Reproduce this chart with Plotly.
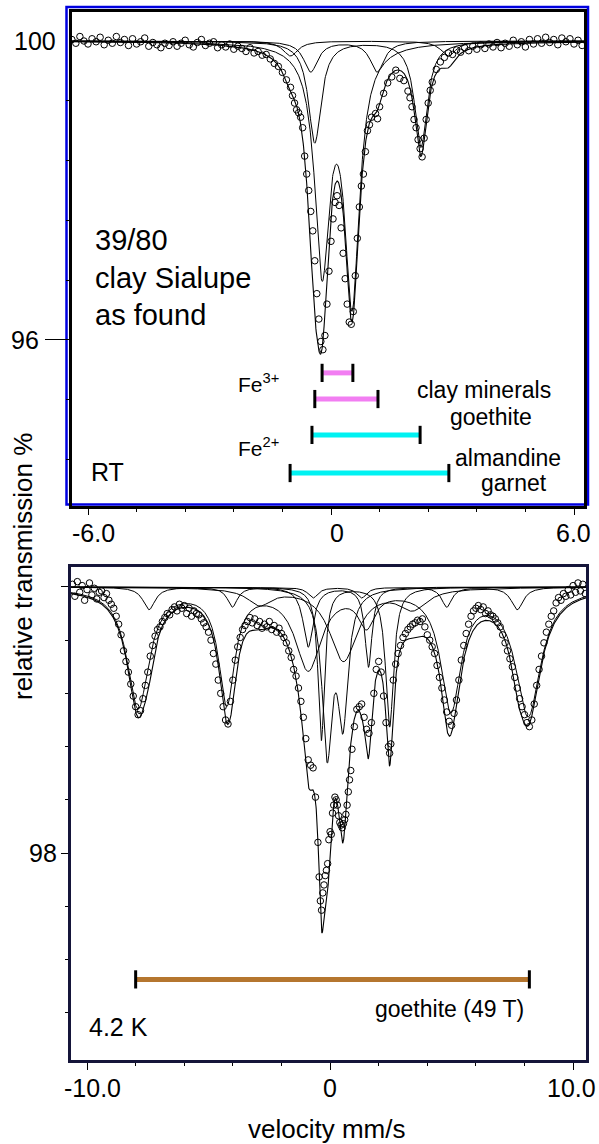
import numpy as np
import plotly.graph_objects as go

W, H = 599, 1144
FONT = "Arial, 'Liberation Sans', sans-serif"

# ---------------- RT spectrum: measured points ----------------
rt_velocity = [
    -6.4, -6.3, -6.2, -6.1, -6.0, -5.9, -5.8, -5.7, -5.6, -5.5, -5.4, -5.3, -5.2, -5.1, -5.0,
    -4.9, -4.8, -4.7, -4.6, -4.5, -4.4, -4.3, -4.2, -4.1, -4.0, -3.9, -3.8, -3.7, -3.6, -3.5,
    -3.4, -3.3, -3.2, -3.1, -3.0, -2.9, -2.8, -2.7, -2.6, -2.5, -2.4, -2.3, -2.2, -2.1, -2.0,
    -1.9, -1.8, -1.7, -1.6, -1.5, -1.4, -1.3, -1.2, -1.1, -1.0, -0.95, -0.9, -0.85, -0.8, -0.75,
    -0.7, -0.65, -0.6, -0.55, -0.5, -0.45, -0.4, -0.35, -0.3, -0.25, -0.2, -0.15, -0.1, -0.05, 0.0,
    0.05, 0.1, 0.15, 0.2, 0.25, 0.3, 0.35, 0.4, 0.45, 0.5, 0.55, 0.6, 0.65, 0.7, 0.75,
    0.8, 0.85, 0.9, 0.95, 1.0, 1.1, 1.15, 1.2, 1.3, 1.4, 1.5, 1.6, 1.7, 1.8, 1.9,
    1.95, 2.0, 2.05, 2.1, 2.15, 2.2, 2.25, 2.3, 2.35, 2.4, 2.45, 2.5, 2.6, 2.7, 2.8,
    2.9, 3.0, 3.1, 3.2, 3.3, 3.4, 3.5, 3.6, 3.7, 3.8, 3.9, 4.0, 4.1, 4.2, 4.3,
    4.4, 4.5, 4.6, 4.7, 4.8, 4.9, 5.0, 5.1, 5.2, 5.3, 5.4, 5.5, 5.6, 5.7, 5.8,
    5.9, 6.0, 6.1, 6.2,
]
rt_transmission = [
    100.02, 99.97, 100.06, 100.00, 99.96, 100.03, 99.99, 100.05, 99.95, 100.01, 99.97, 100.06, 99.98, 100.02, 99.94,
    100.03, 99.96, 99.99, 100.04, 99.93, 99.98, 99.95, 99.91, 99.97, 99.94, 99.99, 99.93, 99.97, 100.01, 99.95,
    99.92, 99.98, 100.02, 99.94, 99.97, 99.99, 99.91, 99.95, 99.92, 99.96, 99.89, 99.93, 99.90, 99.86, 99.91,
    99.84, 99.86, 99.81, 99.82, 99.76, 99.70, 99.66, 99.58, 99.48, 99.38, 99.27, 99.17, 99.08, 99.04, 98.98,
    98.84, 98.46, 98.22, 98.00, 97.72, 97.46, 97.06, 96.62, 96.28, 95.98, 95.87, 96.06, 96.48, 96.92, 97.32,
    97.62, 97.84, 97.93, 97.80, 97.50, 97.16, 96.82, 96.48, 96.24, 96.21, 96.38, 96.86, 97.36, 97.78, 98.06,
    98.22, 98.52, 98.80, 98.88, 98.98, 99.03, 98.96, 99.12, 99.30, 99.44, 99.52, 99.61, 99.50, 99.47, 99.33,
    99.24, 99.12, 98.95, 98.84, 98.68, 98.56, 98.45, 98.70, 98.95, 99.17, 99.34, 99.45, 99.62, 99.72, 99.78,
    99.84, 99.82, 99.88, 99.85, 99.91, 99.87, 99.93, 99.89, 99.95, 99.90, 99.96, 99.92, 99.98, 99.91, 99.97,
    99.93, 100.01, 99.95, 99.99, 99.92, 100.02, 99.96, 100.03, 99.97, 100.05, 99.98, 100.02, 99.95, 100.04, 99.99,
    100.03, 99.96, 100.01, 99.94,
]

# RT fitted subspectra (Lorentzian lines: centre mm/s, depth %, FWHM mm/s)
rt_fe3_clay_centre = [-0.22, 0.52]
rt_fe3_clay_depth = [2.94, 3.38]
rt_fe3_clay_width = [0.44, 0.44]
rt_fe3_goe_centre = [-0.50, 1.14]
rt_fe3_goe_depth = [0.41, 0.41]
rt_fe3_goe_width = [0.42, 0.42]
rt_fe2_clay_centre = [-0.40, 2.22]
rt_fe2_clay_depth = [1.36, 1.42]
rt_fe2_clay_width = [0.38, 0.38]
rt_fe2_alm_centre = [-1.00, 2.90]
rt_fe2_alm_depth = [0.20, 0.20]
rt_fe2_alm_width = [0.45, 0.45]

# RT stick bars (line positions of the doublets)
rt_bar_start = [-0.22, -0.40, -0.47, -1.01]
rt_bar_end = [0.54, 1.16, 2.20, 2.91]
rt_bar_level = [95.56, 95.21, 94.73, 94.22]
rt_bar_color = ["#f27ef2", "#f27ef2", "#00f2f2", "#00f2f2"]

# ---------------- 4.2 K spectrum: measured points ----------------
lt_velocity = [
    -10.6, -10.5, -10.4, -10.3, -10.2, -10.1, -10.0, -9.9, -9.8, -9.7, -9.6, -9.5, -9.4, -9.3, -9.2,
    -9.1, -9.0, -8.9, -8.8, -8.7, -8.6, -8.5, -8.4, -8.3, -8.2, -8.1, -8.0, -7.9, -7.8, -7.7,
    -7.6, -7.5, -7.4, -7.3, -7.2, -7.1, -7.0, -6.9, -6.8, -6.7, -6.6, -6.5, -6.4, -6.3, -6.2,
    -6.1, -6.0, -5.9, -5.8, -5.7, -5.6, -5.5, -5.4, -5.3, -5.2, -5.1, -5.0, -4.9, -4.8, -4.7,
    -4.6, -4.5, -4.4, -4.3, -4.2, -4.1, -4.0, -3.9, -3.8, -3.7, -3.6, -3.5, -3.4, -3.3, -3.2,
    -3.1, -3.0, -2.9, -2.8, -2.7, -2.6, -2.5, -2.4, -2.3, -2.2, -2.1, -2.0, -1.9, -1.8, -1.7,
    -1.6, -1.5, -1.4, -1.3, -1.2, -1.1, -1.0, -0.9, -0.8, -0.7, -0.6, -0.5, -0.45, -0.4, -0.35,
    -0.3, -0.25, -0.2, -0.15, -0.1, -0.05, 0.0, 0.05, 0.1, 0.15, 0.2, 0.25, 0.3, 0.35, 0.4,
    0.45, 0.5, 0.55, 0.6, 0.65, 0.7, 0.75, 0.8, 0.85, 0.9, 1.0, 1.1, 1.2, 1.3, 1.4,
    1.5, 1.6, 1.7, 1.8, 1.9, 2.0, 2.1, 2.2, 2.3, 2.4, 2.45, 2.5, 2.6, 2.7, 2.8,
    2.9, 3.0, 3.1, 3.2, 3.3, 3.4, 3.5, 3.6, 3.7, 3.8, 3.9, 4.0, 4.1, 4.2, 4.3,
    4.4, 4.5, 4.6, 4.7, 4.8, 4.9, 5.0, 5.1, 5.2, 5.3, 5.4, 5.5, 5.6, 5.7, 5.8,
    5.9, 6.0, 6.1, 6.2, 6.3, 6.4, 6.5, 6.6, 6.7, 6.8, 6.9, 7.0, 7.1, 7.2, 7.3,
    7.4, 7.5, 7.6, 7.7, 7.8, 7.9, 8.0, 8.1, 8.2, 8.3, 8.4, 8.5, 8.6, 8.7, 8.8,
    8.9, 9.0, 9.1, 9.2, 9.3, 9.4, 9.5, 9.6, 9.7, 9.8, 9.9, 10.0, 10.1, 10.2, 10.3,
    10.4, 10.5,
]
lt_transmission = [
    100.02, 99.93, 100.04, 99.96, 100.01, 99.90, 99.98, 100.03, 99.94, 99.99, 99.91, 99.96, 99.97, 99.92, 99.95,
    99.90, 99.87, 99.84, 99.78, 99.72, 99.64, 99.52, 99.44, 99.36, 99.27, 99.18, 99.10, 99.04, 99.07, 99.16,
    99.26, 99.36, 99.48, 99.56, 99.63, 99.68, 99.70, 99.74, 99.77, 99.80, 99.79, 99.83, 99.85, 99.82, 99.87,
    99.84, 99.86, 99.80, 99.84, 99.78, 99.82, 99.80, 99.79, 99.76, 99.73, 99.70, 99.66, 99.60, 99.50, 99.42,
    99.30, 99.20, 99.10, 99.00, 98.97, 99.14, 99.30, 99.45, 99.55, 99.62, 99.68, 99.71, 99.74, 99.77, 99.73,
    99.76, 99.71, 99.74, 99.69, 99.72, 99.70, 99.74, 99.68, 99.71, 99.66, 99.69, 99.65, 99.62, 99.58, 99.52,
    99.47, 99.38, 99.33, 99.24, 99.14, 99.02, 98.86, 98.70, 98.66, 98.64, 98.42, 98.08, 97.82, 97.64, 97.57,
    97.70, 97.76, 97.83, 97.87, 97.92, 98.10, 98.16, 98.14, 98.30, 98.36, 98.42, 98.40, 98.36, 98.28, 98.23,
    98.21, 98.19, 98.22, 98.25, 98.29, 98.36, 98.46, 98.55, 98.62, 98.78, 98.95, 99.08, 99.10, 99.12, 99.02,
    98.93, 98.90, 98.98, 99.20, 99.38, 99.44, 99.36, 99.18, 98.98, 98.80, 98.75, 98.82, 99.30, 99.42, 99.50,
    99.56, 99.62, 99.65, 99.68, 99.70, 99.72, 99.73, 99.75, 99.74, 99.76, 99.70, 99.64, 99.60, 99.55, 99.50,
    99.41, 99.32, 99.24, 99.15, 99.06, 98.99, 98.96, 99.05, 99.15, 99.30, 99.45, 99.56, 99.65, 99.72, 99.78,
    99.82, 99.84, 99.86, 99.83, 99.85, 99.80, 99.82, 99.79, 99.78, 99.76, 99.73, 99.70, 99.64, 99.58, 99.52,
    99.46, 99.40, 99.32, 99.24, 99.16, 99.10, 99.04, 98.98, 98.95, 99.00, 99.12, 99.26, 99.38, 99.48, 99.58,
    99.66, 99.72, 99.78, 99.82, 99.88, 99.92, 99.90, 99.95, 99.93, 99.98, 99.94, 100.01, 99.96, 100.03, 99.97,
    100.02, 99.95,
]

# 4.2 K fitted subspectra
lt_goe_centre = [-7.90, -4.25, -0.90, 1.50, 4.97, 8.15]
lt_goe_depth = [0.90, 0.85, 0.60, 0.25, 0.90, 0.95]
lt_goe_width = [1.10, 0.80, 1.30, 0.80, 1.00, 1.25]
lt_sext2_centre = [-7.45, -4.02, -0.70, 1.30, 4.80, 7.70]
lt_sext2_depth = [0.17, 0.15, 0.08, 0.08, 0.15, 0.17]
lt_sext2_width = [0.60, 0.50, 0.50, 0.50, 0.50, 0.60]
lt_fe2_centre = [-0.36, 2.45]
lt_fe2_depth = [1.15, 1.05]
lt_fe2_width = [0.32, 0.40]
lt_fe3_centre = [-0.12, 0.53]
lt_fe3_depth = [1.20, 0.95]
lt_fe3_width = [0.50, 0.50]
lt_dbl2_centre = [-0.90, 1.58]
lt_dbl2_depth = [0.45, 0.60]
lt_dbl2_width = [0.50, 0.35]
lt_broad_centre = [-2.90, 0.55, 3.40]
lt_broad_depth = [0.12, 0.55, 0.15]
lt_broad_width = [1.20, 1.40, 1.40]

lt_bar_start = [-8.0]
lt_bar_end = [8.2]
lt_bar_level = [97.05]
lt_bar_color = ["#b5762f"]

# axis ranges / ticks
rt_xrange = [-6.395, 6.247]
rt_yrange = [93.779, 100.388]
lt_xrange = [-10.66, 10.53]
lt_yrange = [96.444, 100.150]
rt_xticks_major = [-6.0, 0.0, 6.0]
rt_xticks_minor = [-4.8, -3.6, -2.4, -1.2, 1.2, 2.4, 3.6, 4.8]
rt_xtick_labels = ["-6.0", "0", "6.0"]
rt_yticks_minor = [94.4, 95.2, 96.8, 97.6, 98.4, 99.2]
lt_xticks_major = [-10.0, 0.0, 10.0]
lt_xticks_minor = [-8, -6, -4, -2, 2, 4, 6, 8]
lt_xtick_labels = ["-10.0", "0", "10.0"]
lt_yticks_major = [100.0, 98.0]
lt_yticks_minor = [99.6, 99.2, 98.8, 98.4, 97.6, 97.2, 96.8]


def absorption(v, centres, depths, widths):
    v = np.asarray(v)
    out = np.zeros_like(v, dtype=float)
    for c, d, w in zip(centres, depths, widths):
        out += d / (1.0 + ((v - c) / (w / 2.0)) ** 2)
    return out


def px(x):
    return x / W


def py(y):
    return 1 - y / H


fig = go.Figure()

# ---------- top panel ----------
vg = np.linspace(rt_xrange[0], rt_xrange[1], 1500)
rt_components = [
    (rt_fe3_clay_centre, rt_fe3_clay_depth, rt_fe3_clay_width),
    (rt_fe3_goe_centre, rt_fe3_goe_depth, rt_fe3_goe_width),
    (rt_fe2_clay_centre, rt_fe2_clay_depth, rt_fe2_clay_width),
    (rt_fe2_alm_centre, rt_fe2_alm_depth, rt_fe2_alm_width),
]
total = np.zeros_like(vg)
for c, d, w in rt_components:
    a = absorption(vg, c, d, w)
    total += a
    fig.add_trace(go.Scatter(x=vg, y=100 - a, mode="lines", line=dict(color="black", width=1),
                             xaxis="x", yaxis="y", showlegend=False, hoverinfo="skip"))
fig.add_trace(go.Scatter(x=vg, y=100 - total, mode="lines", line=dict(color="black", width=1.1),
                         xaxis="x", yaxis="y", showlegend=False))
fig.add_trace(go.Scatter(x=rt_velocity, y=rt_transmission, mode="markers",
                         marker=dict(symbol="circle-open", size=6.5, color="black", line=dict(width=1)),
                         xaxis="x", yaxis="y", showlegend=False))
for s, e, lv, col in zip(rt_bar_start, rt_bar_end, rt_bar_level, rt_bar_color):
    fig.add_trace(go.Scatter(x=[s, e], y=[lv, lv], mode="lines", line=dict(color=col, width=5),
                             xaxis="x", yaxis="y", showlegend=False))
    fig.add_trace(go.Scatter(x=[s, e], y=[lv, lv], mode="markers",
                             marker=dict(symbol="line-ns", size=13, line=dict(width=3, color="black")),
                             xaxis="x", yaxis="y", showlegend=False))

# ---------- bottom panel ----------
vg2 = np.linspace(lt_xrange[0], lt_xrange[1], 2500)
lt_components = [
    (lt_goe_centre, lt_goe_depth, lt_goe_width),
    (lt_sext2_centre, lt_sext2_depth, lt_sext2_width),
    (lt_fe2_centre, lt_fe2_depth, lt_fe2_width),
    (lt_fe3_centre, lt_fe3_depth, lt_fe3_width),
    (lt_dbl2_centre, lt_dbl2_depth, lt_dbl2_width),
    (lt_broad_centre, lt_broad_depth, lt_broad_width),
]
total2 = np.zeros_like(vg2)
for c, d, w in lt_components:
    a = absorption(vg2, c, d, w)
    total2 += a
    fig.add_trace(go.Scatter(x=vg2, y=100 - a, mode="lines", line=dict(color="black", width=1),
                             xaxis="x2", yaxis="y2", showlegend=False, hoverinfo="skip"))
fig.add_trace(go.Scatter(x=vg2, y=100 - total2, mode="lines", line=dict(color="black", width=1.1),
                         xaxis="x2", yaxis="y2", showlegend=False))
fig.add_trace(go.Scatter(x=lt_velocity, y=lt_transmission, mode="markers",
                         marker=dict(symbol="circle-open", size=6.5, color="black", line=dict(width=1)),
                         xaxis="x2", yaxis="y2", showlegend=False))
for s, e, lv, col in zip(lt_bar_start, lt_bar_end, lt_bar_level, lt_bar_color):
    fig.add_trace(go.Scatter(x=[s, e], y=[lv, lv], mode="lines", line=dict(color=col, width=5),
                             xaxis="x2", yaxis="y2", showlegend=False))
    fig.add_trace(go.Scatter(x=[s, e], y=[lv, lv], mode="markers",
                             marker=dict(symbol="line-ns", size=13, line=dict(width=3, color="black")),
                             xaxis="x2", yaxis="y2", showlegend=False))

axis_common = dict(showgrid=False, zeroline=False, showline=True, mirror=True, showticklabels=False,
                   ticks="outside", tickcolor="black")

fig.update_layout(
    width=W, height=H, margin=dict(l=0, r=0, t=0, b=0),
    paper_bgcolor="white", plot_bgcolor="white",
    font=dict(family=FONT, color="black"),
    xaxis=dict(domain=[px(72), px(584)], anchor="y", range=rt_xrange, linewidth=3, linecolor="black",
               tickvals=rt_xticks_major, ticklen=6, tickwidth=1.3,
               minor=dict(tickvals=rt_xticks_minor, ticks="outside", ticklen=3, tickwidth=1, tickcolor="black"),
               **axis_common),
    yaxis=dict(domain=[py(506), py(12)], anchor="x", range=rt_yrange, linewidth=3, linecolor="black",
               tickvals=[96.0], ticklen=24, tickwidth=1.3,
               minor=dict(tickvals=rt_yticks_minor, ticks="outside", ticklen=3, tickwidth=1, tickcolor="black"),
               **axis_common),
    xaxis2=dict(domain=[px(71), px(586)], anchor="y2", range=lt_xrange, linewidth=3, linecolor="#15153a",
                tickvals=lt_xticks_major, ticklen=7, tickwidth=1.3,
                minor=dict(tickvals=lt_xticks_minor, ticks="outside", ticklen=3, tickwidth=1, tickcolor="black"),
                **axis_common),
    yaxis2=dict(domain=[py(1060), py(567)], anchor="x2", range=lt_yrange, linewidth=3, linecolor="#15153a",
                tickvals=lt_yticks_major, ticklen=7, tickwidth=1.3,
                minor=dict(tickvals=lt_yticks_minor, ticks="outside", ticklen=3, tickwidth=1, tickcolor="black"),
                **axis_common),
    shapes=[
        dict(type="rect", xref="paper", yref="paper", x0=px(66.5), x1=px(588), y0=py(504.5), y1=py(7),
             line=dict(color="#0000e0", width=2.5), fillcolor="rgba(0,0,0,0)", layer="below"),
    ],
)

ann = []


def txt(text, x, y, size, xref="paper", yref="paper", xanchor="center", yanchor="middle", align="center", angle=0):
    ann.append(dict(text=text, x=x, y=y, xref=xref, yref=yref, xanchor=xanchor, yanchor=yanchor,
                    align=align, showarrow=False, textangle=angle,
                    font=dict(size=size, family=FONT, color="black")))


# tick labels
txt("100", px(58), py(41), 25, xanchor="right")
txt("96", px(41), py(340), 25, xanchor="right")
for lbl, xc in zip(rt_xtick_labels, [93, 337, 573]):
    txt(lbl, px(xc), py(533), 25)
txt("98", px(59), py(853), 25, xanchor="right")
for lbl, xc in zip(lt_xtick_labels, [92, 330, 571]):
    txt(lbl, px(xc), py(1088), 25)
# axis titles
txt("velocity mm/s", px(326), py(1129), 26)
txt("relative transmission %", px(23), py(567), 26, angle=-90)

# in-panel texts (top)
txt("39/80<br>clay Sialupe<br>as found", -5.88, 96.83, 29, xref="x", yref="y", xanchor="left", align="left")
txt("Fe<sup>3+</sup>", -1.78, 95.43, 21, xref="x", yref="y")
txt("clay minerals", 3.79, 95.33, 23, xref="x", yref="y")
txt("goethite", 3.95, 94.97, 23, xref="x", yref="y")
txt("Fe<sup>2+</sup>", -1.78, 94.57, 21, xref="x", yref="y")
txt("almandine", 4.37, 94.42, 23, xref="x", yref="y")
txt("garnet", 4.52, 94.09, 23, xref="x", yref="y")
txt("RT", -5.53, 94.23, 25, xref="x", yref="y")
# in-panel texts (bottom)
txt("goethite (49 T)", 4.92, 96.83, 23, xref="x2", yref="y2")
txt("4.2 K", -8.69, 96.69, 25, xref="x2", yref="y2")

fig.update_layout(annotations=ann)
fig.write_html("out.html")
